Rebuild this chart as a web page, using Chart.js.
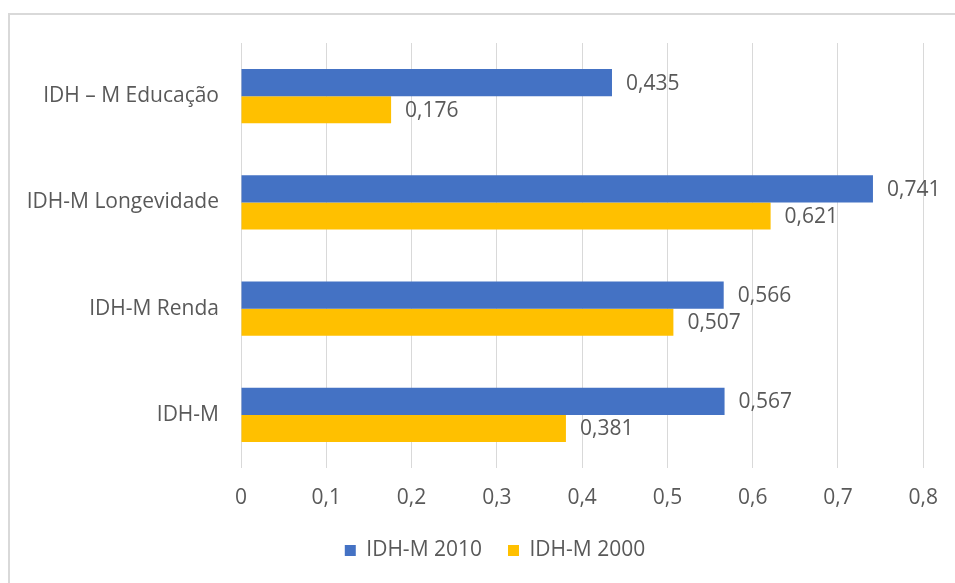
<!DOCTYPE html>
<html lang="pt-BR">
<head>
<meta charset="utf-8">
<title>IDH-M 2000 / 2010</title>
<script src="https://cdn.jsdelivr.net/npm/chart.js@4/dist/chart.umd.min.js"></script>
<style>
    html, body { margin: 0; padding: 0; background: #fff; overflow: hidden; }
    .frame {
        position: absolute; left: 8px; top: 13px;
        width: 1200px; height: 900px;
        border: 2px solid #d9d9d9;
    }
    .chart-box { position: absolute; left: 0; top: 0; width: 955px; height: 583px; }
</style>
</head>
<body>
<div class="frame"></div>
<div class="chart-box"><canvas id="idhChart"></canvas></div>
<script>
const categories = ['IDH – M Educação', 'IDH-M Longevidade', 'IDH-M Renda', 'IDH-M'];
const idh2010 = [0.435, 0.741, 0.566, 0.567];
const idh2000 = [0.176, 0.621, 0.507, 0.381];
const xTicks = [0, 0.1, 0.2, 0.3, 0.4, 0.5, 0.6, 0.7, 0.8];

const TEXT = '#595959';
const FONT = '"Open Sans", Lato, sans-serif';
const SIZE = 21;

// comma as decimal separator, like the original
function ptBR(v, digits) {
    return Number(v.toFixed(digits)).toString().replace('.', ',');
}

const valueLabels = {
    id: 'valueLabels',
    afterDatasetsDraw(chart) {
        const ctx = chart.ctx;
        ctx.save();
        ctx.fillStyle = TEXT;
        ctx.font = SIZE + 'px ' + FONT;
        ctx.textAlign = 'left';
        ctx.textBaseline = 'middle';
        chart.data.datasets.forEach((ds, i) => {
            chart.getDatasetMeta(i).data.forEach((bar, j) => {
                ctx.fillText(ds.data[j].toFixed(3).replace('.', ','), bar.x + 14, bar.y + 1);
            });
        });
        ctx.restore();
    }
};

// the original legend sits a bit right of the canvas centre
const legendShift = {
    id: 'legendShift',
    afterLayout(chart) {
        if (!chart.legend) return;
        chart.legend.left += 32;
        chart.legend.right += 32;
    }
};

function createChart() {
    const ctx = document.getElementById('idhChart');
    if (!ctx) return;

    new Chart(ctx, {
        type: 'bar',
        data: {
            labels: categories,
            datasets: [
                {
                    label: 'IDH-M 2010',
                    data: idh2010,
                    backgroundColor: '#4472C4',
                    barPercentage: 1,
                    categoryPercentage: 0.51
                },
                {
                    label: 'IDH-M 2000',
                    data: idh2000,
                    backgroundColor: '#FFC000',
                    barPercentage: 1,
                    categoryPercentage: 0.51
                }
            ]
        },
        options: {
            indexAxis: 'y',
            responsive: true,
            maintainAspectRatio: false,
            animation: false,
            layout: { padding: { top: 43, right: 29, bottom: 12, left: 0 } },
            plugins: {
                tooltip: { enabled: false },
                legend: {
                    position: 'bottom',
                    labels: {
                        color: TEXT,
                        font: { family: FONT, size: SIZE },
                        boxWidth: 11,
                        boxHeight: 11,
                        padding: 26
                    }
                }
            },
            scales: {
                x: {
                    min: 0,
                    max: 0.8,
                    afterBuildTicks: (scale) => {
                        scale.ticks = xTicks.map(v => ({ value: v }));
                    },
                    afterFit: (scale) => { scale.height = 46; },
                    grid: { color: '#d9d9d9', lineWidth: 1, drawTicks: false },
                    border: { display: false },
                    ticks: {
                        color: TEXT,
                        font: { family: FONT, size: SIZE },
                        padding: 17,
                        callback: (v) => ptBR(v, 1)
                    }
                },
                y: {
                    afterFit: (scale) => { scale.width = 241; },
                    grid: { display: false, drawTicks: false },
                    border: { display: false },
                    ticks: {
                        color: TEXT,
                        font: { family: FONT, size: SIZE },
                        padding: 22
                    }
                }
            }
        },
        plugins: [valueLabels, legendShift]
    });
}

document.addEventListener('DOMContentLoaded', createChart);
</script>
</body>
</html>
